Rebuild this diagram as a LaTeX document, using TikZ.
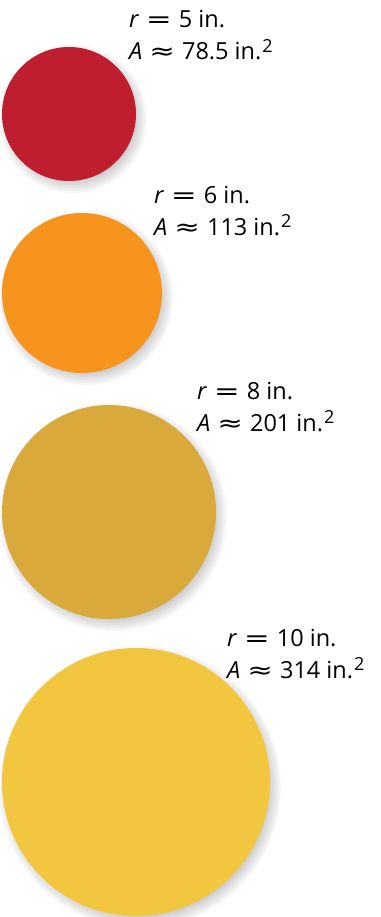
\documentclass[tikz,border=0pt]{standalone}
\usepackage{fontspec}
\usepackage{graphicx}
\setmainfont{Open Sans}
\newfontfamily\symfont{DejaVu Sans}
\usepackage{tikz}
\definecolor{discRed}{HTML}{BE1E2D}
\definecolor{discOrange}{HTML}{F7941E}
\definecolor{discGold}{HTML}{DAA93B}
\definecolor{discYellow}{HTML}{F2C73F}
\newcommand{\eqsign}{\hspace{0.3em}\scalebox{1.3}[1]{\symfont =}\hspace{0.3em}}
\newcommand{\approxsign}{\hspace{0.3em}\scalebox{1.3}[1]{\symfont ≈}\hspace{0.3em}}
\newcommand{\sqin}{in.\kern1pt\raisebox{0.3em}{\fontsize{18}{18}\selectfont 2}}

\begin{document}
\begin{tikzpicture}[
    x=1pt, y=-1pt,
    disc/.style={circle, inner sep=0pt, draw=none},
    size label/.style={
        anchor=base west, align=left, inner sep=0pt,
        font=\fontsize{23.5}{32}\selectfont
    },
]
    \useasboundingbox (0,0) rectangle (380,917);
    % soft shadows, down and to the right
    \foreach \cx/\cy/\r in {69/114/67, 82/293/80, 109/512/107, 136/782/134} {
        \foreach \k in {0,...,7}
            \fill[black, opacity=0.03] (\cx+4,\cy+5) circle[radius=\r+7-2*\k];
    }
    \node[disc, fill=discRed, minimum size=134pt] (red) at (69,114) {};
    \node[disc, fill=discOrange, minimum size=160pt] (orange) at (82,293) {};
    \node[disc, fill=discGold, minimum size=214pt] (gold) at (109,512) {};
    \node[disc, fill=discYellow, minimum size=268pt] (yellow) at (136,782) {};

    % labels sit on the baseline of their second line
    \node[size label] (redlabel) at (129,60)
        {\textit{r}\eqsign 5 in.\\\textit{A}\approxsign 78.5 \sqin};
    \node[size label] (orangelabel) at (154,235)
        {\textit{r}\eqsign 6 in.\\\textit{A}\approxsign 113 \sqin};
    \node[size label] (goldlabel) at (197,431)
        {\textit{r}\eqsign 8 in.\\\textit{A}\approxsign 201 \sqin};
    \node[size label] (yellowlabel) at (227,678)
        {\textit{r}\eqsign 10 in.\\\textit{A}\approxsign 314 \sqin};
\end{tikzpicture}
\end{document}
